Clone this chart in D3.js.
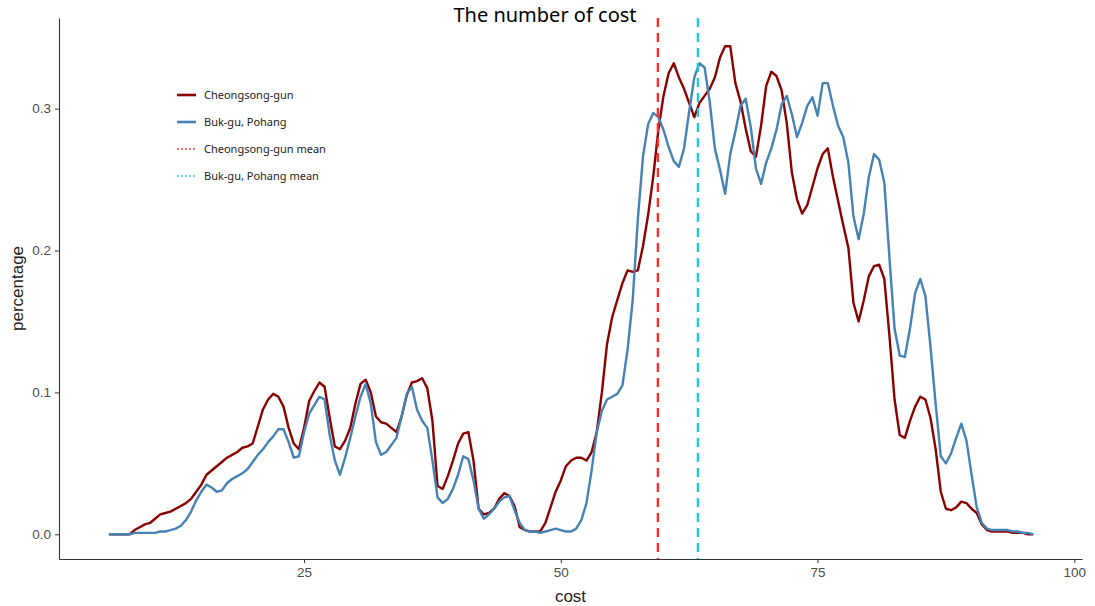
<!DOCTYPE html>
<html>
<head>
<meta charset="utf-8">
<script src="https://cdn.jsdelivr.net/npm/d3@7"></script>
<style>
  body { margin: 0; background: #fff; }
  svg { display: block; }
  .tick text { font-family: "Liberation Sans", Arial, sans-serif; font-size: 13.5px; fill: #4d4d4d; }
</style>
</head>
<body>
<div id="chart"></div>
<script>
// cost grid (every half unit from 6 to 96)
var costs = d3.range(6, 96.01, 0.5);

var cheongsong = [
  0, 0, 0, 0, 0.000, 0.003, 0.005, 0.007, 0.008, 0.011,
  0.014, 0.015, 0.016, 0.018, 0.020, 0.022, 0.025, 0.030, 0.035, 0.042,
  0.045, 0.048, 0.051, 0.054, 0.056, 0.058, 0.061, 0.062, 0.064, 0.076,
  0.088, 0.095, 0.099, 0.097, 0.090, 0.075, 0.064, 0.060, 0.075, 0.094,
  0.101, 0.107, 0.104, 0.082, 0.062, 0.060, 0.066, 0.075, 0.092, 0.106,
  0.109, 0.100, 0.083, 0.079, 0.078, 0.075, 0.072, 0.083, 0.098, 0.107,
  0.108, 0.110, 0.103, 0.080, 0.034, 0.032, 0.041, 0.052, 0.064, 0.071,
  0.072, 0.052, 0.018, 0.014, 0.015, 0.018, 0.025, 0.029, 0.027, 0.020,
  0.005, 0.003, 0.002, 0.002, 0.002, 0.008, 0.019, 0.030, 0.038, 0.048,
  0.052, 0.054, 0.054, 0.052, 0.058, 0.072, 0.100, 0.134, 0.153, 0.165,
  0.177, 0.186, 0.185, 0.186, 0.203, 0.225, 0.252, 0.285, 0.309, 0.325,
  0.332, 0.322, 0.314, 0.304, 0.294, 0.304, 0.309, 0.314, 0.322, 0.336,
  0.344, 0.344, 0.318, 0.305, 0.286, 0.270, 0.266, 0.288, 0.316, 0.326,
  0.323, 0.313, 0.290, 0.255, 0.236, 0.226, 0.232, 0.245, 0.258, 0.268,
  0.272, 0.252, 0.235, 0.218, 0.202, 0.163, 0.150, 0.165, 0.182, 0.189,
  0.190, 0.180, 0.140, 0.095, 0.070, 0.068, 0.080, 0.090, 0.097, 0.095,
  0.082, 0.060, 0.030, 0.018, 0.017, 0.019, 0.023, 0.022, 0.018, 0.015,
  0.007, 0.003, 0.002, 0.002, 0.002, 0.002, 0.001, 0.001, 0.001, 0.000,
  0.000
];

var bukgu = [
  0, 0, 0, 0, 0, 0.001, 0.001, 0.001, 0.001, 0.001,
  0.002, 0.002, 0.003, 0.004, 0.006, 0.010, 0.016, 0.024, 0.030, 0.035,
  0.033, 0.030, 0.031, 0.036, 0.039, 0.041, 0.043, 0.046, 0.051, 0.056,
  0.060, 0.065, 0.069, 0.074, 0.074, 0.065, 0.054, 0.055, 0.072, 0.085,
  0.091, 0.097, 0.095, 0.070, 0.052, 0.042, 0.054, 0.068, 0.083, 0.097,
  0.106, 0.092, 0.065, 0.056, 0.058, 0.063, 0.068, 0.083, 0.099, 0.104,
  0.088, 0.080, 0.075, 0.052, 0.026, 0.022, 0.025, 0.032, 0.042, 0.055,
  0.053, 0.038, 0.018, 0.011, 0.014, 0.018, 0.023, 0.026, 0.027, 0.017,
  0.008, 0.003, 0.002, 0.002, 0.001, 0.002, 0.003, 0.004, 0.003, 0.002,
  0.002, 0.004, 0.010, 0.022, 0.045, 0.072, 0.087, 0.095, 0.097, 0.099,
  0.105, 0.130, 0.165, 0.222, 0.266, 0.289, 0.297, 0.294, 0.285, 0.273,
  0.263, 0.259, 0.272, 0.298, 0.322, 0.332, 0.329, 0.305, 0.272, 0.257,
  0.240, 0.268, 0.284, 0.302, 0.307, 0.287, 0.258, 0.247, 0.262, 0.272,
  0.285, 0.303, 0.309, 0.296, 0.280, 0.290, 0.302, 0.308, 0.295, 0.318,
  0.318, 0.302, 0.288, 0.280, 0.262, 0.224, 0.208, 0.226, 0.252, 0.268,
  0.264, 0.248, 0.195, 0.145, 0.126, 0.125, 0.145, 0.170, 0.180, 0.168,
  0.132, 0.092, 0.055, 0.050, 0.057, 0.068, 0.078, 0.066, 0.042, 0.019,
  0.008, 0.004, 0.003, 0.003, 0.003, 0.003, 0.002, 0.002, 0.001, 0.001,
  0.000
];

var seriesNames = ['Cheongsong-gun', 'Buk-gu, Pohang'];
var seriesColors = ['#8b0000', '#4682b4'];
var meanNames = ['Cheongsong-gun mean', 'Buk-gu, Pohang mean'];
var meanValues = [59.45, 63.35];
var meanColors = ['#ff2a2a', '#1ccad6'];
var meanKeyColors = ['#f07070', '#6fd6df'];
var xTicks = [25, 50, 75, 100];
var yTicks = [0, 0.1, 0.2, 0.3];

var width = 1095, height = 606;
var margin = { left: 59, right: 13, top: 18, bottom: 47 };

var svg = d3.select('#chart').append('svg')
  .attr('width', width)
  .attr('height', height);

var x = d3.scaleLinear()
  .domain([1.14, 100.75])
  .range([margin.left, width - margin.right]);

var y = d3.scaleLinear()
  .domain([-0.0174, 0.3639])
  .range([height - margin.bottom, margin.top]);

var series = [cheongsong, bukgu];

var line = d3.line()
  .x(function(d) { return x(d[0]); })
  .y(function(d) { return y(d[1]); })
  .curve(d3.curveLinear);

series.forEach(function(vals, i) {
  svg.append('path')
    .datum(costs.map(function(c, j) { return [c, vals[j]]; }))
    .attr('fill', 'none')
    .attr('stroke', seriesColors[i])
    .attr('stroke-width', 2.4)
    .attr('stroke-linejoin', 'round')
    .attr('d', line);
});

meanValues.forEach(function(m, i) {
  svg.append('line')
    .attr('x1', x(m)).attr('x2', x(m))
    .attr('y1', margin.top).attr('y2', height - margin.bottom)
    .attr('stroke', meanColors[i])
    .attr('stroke-width', 2.3)
    .attr('stroke-dasharray', '9,6');
});

// axes
var xAxis = svg.append('g')
  .attr('transform', 'translate(0,' + (height - margin.bottom) + ')')
  .call(d3.axisBottom(x).tickValues(xTicks).tickSize(4).tickSizeOuter(0)
    .tickPadding(4).tickFormat(d3.format('d')));

var yAxis = svg.append('g')
  .attr('transform', 'translate(' + margin.left + ',0)')
  .call(d3.axisLeft(y).tickValues(yTicks).tickSize(4).tickSizeOuter(0)
    .tickPadding(4).tickFormat(d3.format('.1f')));

[xAxis, yAxis].forEach(function(a) {
  a.select('.domain').attr('stroke', '#333').attr('stroke-width', 1.1);
  a.selectAll('.tick line').attr('stroke', '#333');
});

// titles
svg.append('text')
  .attr('x', 545)
  .attr('y', 22)
  .attr('text-anchor', 'middle')
  .style('font-family', '"Noto Sans", sans-serif')
  .style('font-size', '20px')
  .style('fill', '#000')
  .text('The number of cost');

svg.append('text')
  .attr('x', (margin.left + width - margin.right) / 2)
  .attr('y', 602)
  .attr('text-anchor', 'middle')
  .style('font-family', '"Liberation Sans", Arial, sans-serif')
  .style('font-size', '17px')
  .style('fill', '#222')
  .text('cost');

svg.append('text')
  .attr('transform', 'translate(23,' + (margin.top + height - margin.bottom) / 2 + ') rotate(-90)')
  .attr('text-anchor', 'middle')
  .style('font-family', '"Liberation Sans", Arial, sans-serif')
  .style('font-size', '17px')
  .style('fill', '#222')
  .text('percentage');

// legend
var legendItems = [
  { name: seriesNames[0], color: seriesColors[0], dash: null },
  { name: seriesNames[1], color: seriesColors[1], dash: null },
  { name: meanNames[0], color: meanKeyColors[0], dash: '2,2' },
  { name: meanNames[1], color: meanKeyColors[1], dash: '2,2' }
];

var legend = svg.selectAll('.legend')
  .data(legendItems)
  .enter()
  .append('g')
  .attr('class', 'legend')
  .attr('transform', function(d, i) {
    return 'translate(177,' + (95 + i * 27) + ')';
  });

legend.append('line')
  .attr('x1', 0).attr('x2', 19)
  .attr('stroke', function(d) { return d.color; })
  .attr('stroke-width', function(d) { return d.dash ? 2 : 2.6; })
  .attr('stroke-dasharray', function(d) { return d.dash; });

legend.append('text')
  .attr('x', 27)
  .attr('y', 4)
  .style('font-family', '"Noto Sans", sans-serif')
  .style('font-size', '11px')
  .style('fill', '#222')
  .text(function(d) { return d.name; });
</script>
</body>
</html>
